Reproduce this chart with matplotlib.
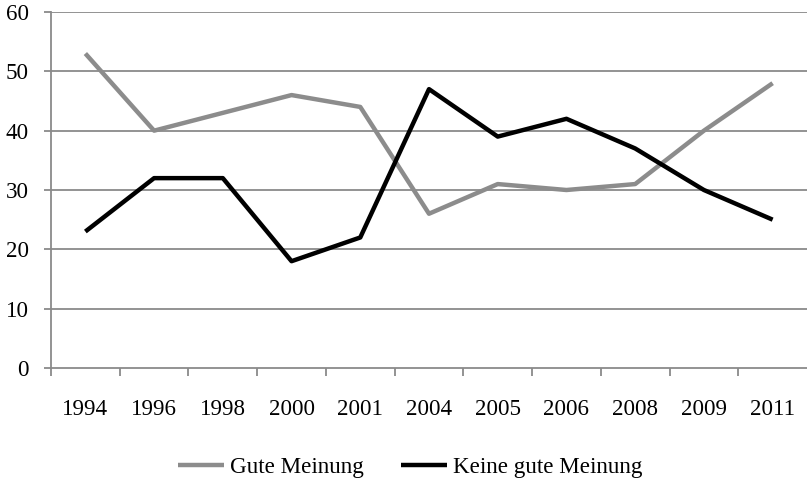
import matplotlib
matplotlib.use("Agg")
import matplotlib.pyplot as plt
import numpy as np

years = ["1994", "1996", "1998", "2000", "2001", "2004", "2005", "2006", "2008", "2009", "2011"]
gute = [53, 40, 43, 46, 44, 26, 31, 30, 31, 40, 48]
keine = [23, 32, 32, 18, 22, 47, 39, 42, 37, 30, 25]
yticks = [0, 10, 20, 30, 40, 50, 60]

plt.rcParams['font.family'] = ['Liberation Serif', 'DejaVu Serif']
FS = 16.6

fig = plt.figure(figsize=(8.07, 4.82), dpi=100)
ax = fig.add_axes([51/807, 1-368/482, 756/807, (368-12)/482])

x = np.arange(len(years))
grid_c = '#8a8a8a'
ax.plot(x, gute, color='#8c8c8c', lw=3.2, label='Gute Meinung', solid_capstyle='butt', zorder=3)
ax.plot(x, keine, color='#000000', lw=3.2, label='Keine gute Meinung', solid_capstyle='butt', zorder=3)

ax.set_xlim(-0.5, len(years)-0.5)
ax.set_ylim(0, 60)
ax.set_yticks(yticks)
ax.set_yticklabels([str(v) for v in yticks], fontsize=FS)
ax.set_xticks(x)
ax.set_xticklabels(years, fontsize=FS)
ax.tick_params(axis='x', which='major', length=0, pad=22)
ax.set_xticks(np.arange(-0.5, len(years)-0.5, 1.0), minor=True)
ax.tick_params(axis='x', which='minor', length=6, color=grid_c, width=1.3, direction='out')
ax.tick_params(axis='y', length=5, color=grid_c, width=1.3, pad=11)

for y in yticks[1:]:
    ax.axhline(y, color=grid_c, lw=1.3, zorder=1)

for s in ['top', 'right']:
    ax.spines[s].set_visible(False)
for s in ['left', 'bottom']:
    ax.spines[s].set_color(grid_c)
    ax.spines[s].set_linewidth(1.3)

fig.legend(loc='center', bbox_to_anchor=(410/807, 1-467/482), ncol=2, frameon=False,
           fontsize=FS, handlelength=2.0, handletextpad=0.25, columnspacing=1.6)

fig.savefig('out.png', dpi=100)
